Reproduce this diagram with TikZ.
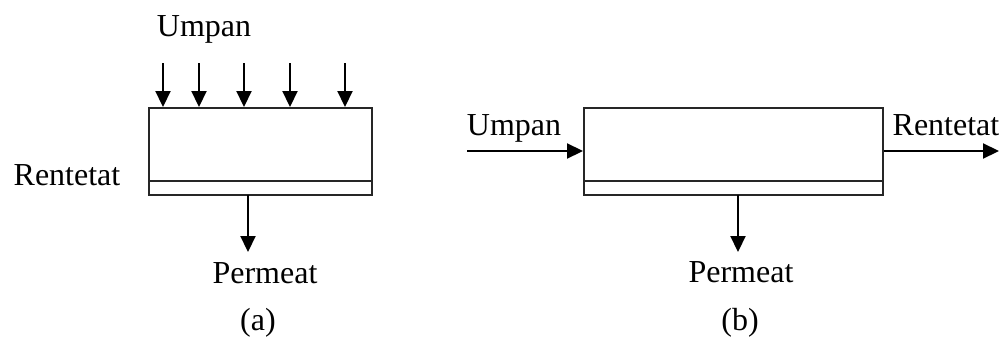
\documentclass[tikz,border=0pt]{standalone}
\usepackage{fontspec}
\setmainfont{Liberation Serif}
\usetikzlibrary{arrows.meta}
\tikzset{
  unit/.style={draw=black!85, line width=1pt, rectangle, inner sep=0pt},
  flow/.style={draw=black, line width=1.1pt, -{Triangle[length=8pt,width=7.5pt]}},
  lbl/.style={font=\fontsize{16}{19}\selectfont, inner sep=0pt, anchor=base}
}
\begin{document}
\begin{tikzpicture}[x=0.5pt,y=-0.5pt]
  \useasboundingbox (0,0) rectangle (1008,337);

  % ---- (a) dead-end filtration ----
  \node[unit, minimum width=111.5pt, minimum height=43.5pt] (boxA) at (260.5,151.5) {};
  \coordinate (mA) at (149,181);
  \draw[black!85, line width=1pt] (mA) -- (mA -| boxA.east);
  \foreach \i/\x in {1/163,2/199,3/244,4/290,5/345}{
    \coordinate (ua\i) at (\x,63);
    \draw[flow] (ua\i) -- (ua\i |- boxA.north);
  }
  \node[lbl] (umpanA) at (204,36) {Umpan};
  \node[lbl] (rentA) at (67,185) {Rentetat};
  \coordinate (pA) at (248,195);
  \coordinate (pAend) at (248,252);
  \draw[flow] (pA) -- (pAend);
  \node[lbl] (permA) at (265,283) {Permeat};
  \node[lbl] (capA) at (258,330) {(a)};

  % ---- (b) cross-flow filtration ----
  \node[unit, minimum width=149.5pt, minimum height=43.5pt] (boxB) at (733.5,151.5) {};
  \coordinate (mB) at (584,181);
  \draw[black!85, line width=1pt] (mB) -- (mB -| boxB.east);
  \coordinate (inB) at (467,151);
  \draw[flow] (inB) -- (inB -| boxB.west);
  \coordinate (outB) at (999,151);
  \draw[flow] (outB -| boxB.east) -- (outB);
  \node[lbl] (umpanB) at (514,135) {Umpan};
  \node[lbl] (rentB) at (946,135) {Rentetat};
  \coordinate (pB) at (738,195);
  \coordinate (pBend) at (738,252);
  \draw[flow] (pB) -- (pBend);
  \node[lbl] (permB) at (741,282) {Permeat};
  \node[lbl] (capB) at (740,330) {(b)};
\end{tikzpicture}
\end{document}
